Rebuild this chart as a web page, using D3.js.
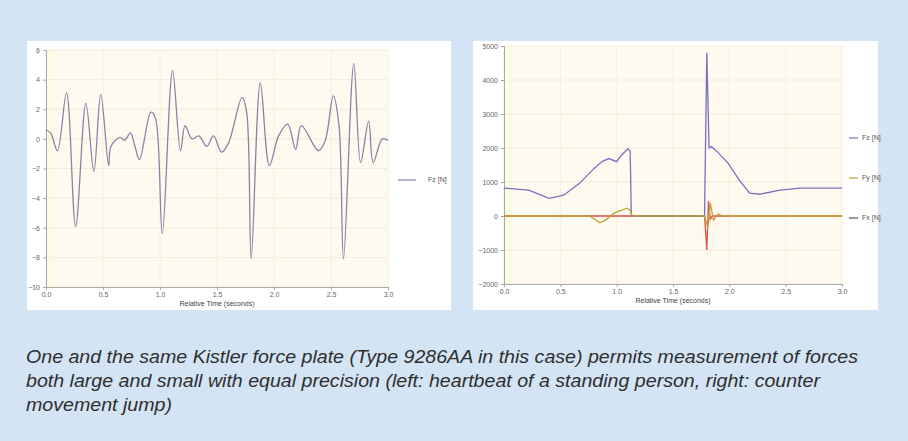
<!DOCTYPE html>
<html>
<head>
<meta charset="utf-8">
<script src="https://cdn.jsdelivr.net/npm/d3@7"></script>
<style>
  body { margin: 0; background: #d3e4f4; }
  svg { display: block; }
</style>
</head>
<body>
<svg id="chart" width="908" height="441"></svg>
<script>
// left chart: heartbeat, Fz [N] over relative time (s)
var leftTime = [0, 0.04, 0.1, 0.18, 0.26, 0.35, 0.42, 0.48, 0.55, 0.57, 0.65, 0.69, 0.74, 0.78, 0.82, 0.92, 0.96,
  1.02, 1.11, 1.18, 1.22, 1.28, 1.34, 1.41, 1.47, 1.54, 1.6, 1.72, 1.76, 1.8, 1.88, 1.96, 2.04, 2.12, 2.19, 2.24,
  2.39, 2.45, 2.52, 2.57, 2.61, 2.7, 2.76, 2.83, 2.87, 2.95, 3.0];
var leftFz = [0.6, 0.4, -0.8, 3.1, -5.9, 2.4, -2.2, 3.0, -1.8, -0.5, 0.1, -0.1, 0.4, -0.5, -1.4, 1.8, 1.4,
  -6.4, 4.6, -0.8, 0.9, 0, 0.2, -0.5, 0.2, -0.9, -0.3, 2.8, 1.8, -8.1, 3.8, -1.8, 0.2, 1.0, -0.7, 0.9,
  -0.8, -0.1, 2.9, 0.9, -8.1, 5.1, -1.6, 1.2, -1.6, 0, -0.1];
var leftYTicks = [6, 4, 2, 0, -2, -4, -6, -8, -10];
var xTicks = [0, 0.5, 1.0, 1.5, 2.0, 2.5, 3.0];

// right chart: counter movement jump
var fzTime = [0, 0.22, 0.4, 0.53, 0.67, 0.8, 0.87, 0.93, 1.0, 1.04, 1.1, 1.12, 1.13, 1.78, 1.8, 1.82, 1.84,
  1.89, 1.99, 2.09, 2.18, 2.27, 2.45, 2.63, 3.0];
var fzValues = [820, 760, 520, 610, 960, 1400, 1600, 1690, 1600, 1780, 1980, 1900, 0, 0, 4800, 2000, 2040,
  1900, 1550, 1050, 670, 640, 760, 820, 820];
var fyTime = [0, 0.76, 0.85, 0.9, 0.98, 1.09, 1.12, 1.14, 1.78, 1.81, 1.83, 1.86, 1.9, 1.94, 3.0];
var fyValues = [0, 0, -200, -120, 90, 230, 170, 0, 0, -350, 380, -120, 60, 0, 0];
var fxTime = [0, 1.78, 1.8, 1.815, 1.83, 1.85, 3.0];
var fxValues = [0, 0, -1000, 450, -100, 0, 0];
var rightYTicks = [5000, 4000, 3000, 2000, 1000, 0, -1000, -2000];

var caption = [
  "One and the same Kistler force plate (Type 9286AA in this case) permits measurement of forces",
  "both large and small with equal precision (left: heartbeat of a standing person, right: counter",
  "movement jump)"
];

var svg = d3.select("#chart");
var tickFont = "Liberation Sans, Arial, sans-serif";

// white panels
svg.append("rect").attr("x", 27).attr("y", 41).attr("width", 424).attr("height", 269).attr("fill", "#ffffff");
svg.append("rect").attr("x", 473).attr("y", 41).attr("width", 405).attr("height", 269).attr("fill", "#ffffff");

function drawPanel(x, y, yTicks, fmt) {
  var g = svg.append("g");
  var x0 = x.range()[0], x1 = x.range()[1];
  var yTop = y.range()[1], yBot = y.range()[0];

  g.append("rect").attr("x", x0).attr("y", yTop).attr("width", x1 - x0).attr("height", yBot - yTop)
    .attr("fill", "#fffaef");
  g.append("rect").attr("x", x0).attr("y", yTop).attr("width", 8).attr("height", yBot - yTop)
    .attr("fill", "#fbfbe6");

  g.selectAll(".hg").data(yTicks).enter().append("line")
    .attr("x1", x0).attr("x2", x1)
    .attr("y1", function (d) { return y(d); }).attr("y2", function (d) { return y(d); })
    .attr("stroke", "#f6eadc").attr("stroke-width", 1);
  g.selectAll(".vg").data(xTicks).enter().append("line")
    .attr("y1", yTop).attr("y2", yBot)
    .attr("x1", function (d) { return x(d); }).attr("x2", function (d) { return x(d); })
    .attr("stroke", "#f6eee0").attr("stroke-width", 1);

  var yAxis = d3.axisLeft(y).tickValues(yTicks).tickSize(3).tickFormat(fmt);
  var xAxis = d3.axisBottom(x).tickValues(xTicks).tickSize(3).tickFormat(d3.format(".1f"));

  var ya = g.append("g").attr("transform", "translate(" + x0 + ",0)").call(yAxis);
  var xa = g.append("g").attr("transform", "translate(0," + yBot + ")").call(xAxis);
  [ya, xa].forEach(function (a) {
    a.select(".domain").attr("stroke", "#a9a9a9");
    a.selectAll(".tick line").attr("stroke", "#a9a9a9");
    a.selectAll("text").attr("font-family", tickFont).attr("font-size", 7).attr("fill", "#666");
  });
  xa.selectAll("text").attr("dy", "0.5em");

  g.append("text").attr("x", (x0 + x1) / 2).attr("y", yBot + 19)
    .attr("text-anchor", "middle").attr("font-family", tickFont).attr("font-size", 7)
    .attr("fill", "#444").text("Relative Time (seconds)");
  return g;
}

// left
var xL = d3.scaleLinear().domain([0, 3]).range([46, 388]);
var yL = d3.scaleLinear().domain([-10, 6]).range([287, 50]);
drawPanel(xL, yL, leftYTicks, d3.format("d"));

var lineL = d3.line().curve(d3.curveCatmullRom.alpha(0.5))
  .x(function (d, i) { return xL(leftTime[i]); })
  .y(function (d) { return yL(d); });
svg.append("path").datum(leftFz).attr("d", lineL)
  .attr("fill", "none").attr("stroke", "#8c82a6").attr("stroke-width", 1.3);

svg.append("line").attr("x1", 398).attr("x2", 416).attr("y1", 180).attr("y2", 180)
  .attr("stroke", "#8c82a6").attr("stroke-width", 1.2);
svg.append("text").attr("x", 428).attr("y", 182).attr("font-family", tickFont).attr("font-size", 7)
  .attr("fill", "#555").text("Fz [N]");

// right
var xR = d3.scaleLinear().domain([0, 3]).range([504, 842]);
var yR = d3.scaleLinear().domain([-2000, 5000]).range([284, 46]);
drawPanel(xR, yR, rightYTicks, d3.format("d"));

function series(times, vals, color) {
  var line = d3.line()
    .x(function (d, i) { return xR(times[i]); })
    .y(function (d) { return yR(d); });
  svg.append("path").datum(vals).attr("d", line)
    .attr("fill", "none").attr("stroke", color).attr("stroke-width", 1.3);
}
series(fxTime, fxValues, "#e0504a");
series(fzTime, fzValues, "#7672c0");
series(fyTime, fyValues, "#b9a43c");

var legend = [
  { label: "Fz [N]", y: 138, color: "#7672c0" },
  { label: "Fy [N]", y: 178, color: "#b9a43c" },
  { label: "Fx [N]", y: 218, color: "#555555" }
];
legend.forEach(function (l) {
  svg.append("line").attr("x1", 849).attr("x2", 858).attr("y1", l.y).attr("y2", l.y)
    .attr("stroke", l.color).attr("stroke-width", 1.2);
  svg.append("text").attr("x", 862).attr("y", l.y + 2).attr("font-family", tickFont).attr("font-size", 7)
    .attr("fill", "#555").text(l.label);
});

// caption: narrow italic, stretched so the first line spans the measured width
var capTexts = caption.map(function (t, i) {
  return svg.append("text").attr("x", 26).attr("y", 363 + i * 24)
    .attr("font-family", "Liberation Sans Narrow, Arial Narrow, Liberation Sans, sans-serif")
    .attr("font-style", "italic").attr("font-size", 18).attr("fill", "#2e2e2e").text(t);
});
var factor = 832 / capTexts[0].node().getComputedTextLength();
capTexts.forEach(function (txt) {
  var w = txt.node().getComputedTextLength();
  txt.attr("textLength", w * factor).attr("lengthAdjust", "spacingAndGlyphs");
});
</script>
</body>
</html>
